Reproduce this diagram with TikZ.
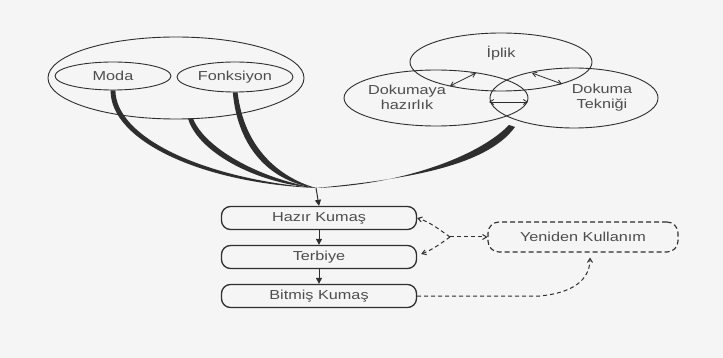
\documentclass[tikz,border=0pt]{standalone}
\usepackage{fontspec}
\setmainfont{Liberation Sans}[FakeStretch=1.25]
\usetikzlibrary{shapes.geometric, arrows.meta, calc}
\definecolor{ink}{HTML}{2E2E2E}
\definecolor{paper}{HTML}{F5F5F5}
\tikzset{
    >={Straight Barb[length=4pt,width=5pt]},
    % Shapes
    oval/.style={ellipse, draw=ink, line width=0.9pt, inner sep=0pt},
    lbl/.style={font=\fontsize{13}{15}\selectfont, text=ink!85, align=center},
    stage/.style={rectangle, draw=ink, line width=1.3pt, rounded corners=9pt,
                  minimum width=195pt, minimum height=23pt, lbl},
    reuse/.style={stage, dash pattern=on 5pt off 3pt, line width=1.1pt, minimum width=190pt,
                  minimum height=30pt, rounded corners=11pt},
    % Flow
    flow/.style={-{Triangle[length=6pt,width=6pt]}, ink, line width=1pt},
    loopback/.style={->, ink, dash pattern=on 4pt off 3pt, line width=1pt},
    twoway/.style={<->, ink, line width=0.8pt},
    brush/.style={fill=ink}
}

\begin{document}
\begin{tikzpicture}[x=1pt, y=-1pt]
\fill[paper] (0,0) rectangle (723,358);
\useasboundingbox (0,0) rectangle (723,358);

% left group
\node[oval, minimum width=256pt, minimum height=82pt] (trend) at (176,78) {};
\node[oval, lbl, minimum width=116pt, minimum height=28pt] (moda) at (113,76) {Moda};
\node[oval, lbl, minimum width=116pt, minimum height=30pt] (fonk) at (235,77) {Fonksiyon};

% right group
\node[oval, minimum width=182pt, minimum height=58pt] (iplik) at (501,62) {};
\node[oval, minimum width=184pt, minimum height=56pt] (hazirlik) at (436,98) {};
\node[oval, minimum width=168pt, minimum height=60pt] (teknik) at (574,98) {};
\node[lbl] (iplikT) at (501,53) {İplik};
\node[lbl] (hazirlikT) at (407,97) {Dokumaya\\hazırlık};
\node[lbl] (teknikT) at (602,98) {Dokuma\\Tekniği};

\coordinate (a1) at (450,86);  \coordinate (a2) at (476,73);
\coordinate (b1) at (532,73);  \coordinate (b2) at (562,84);
\coordinate (c1) at (489,102); \coordinate (c2) at (528,102);
\draw[twoway] (a1) -- (a2);
\draw[twoway] (b1) -- (b2);
\draw[twoway] (c1) -- (c2);

% process chain
\node[stage] (hazir) at (319,218) {Hazır Kumaş};
\node[stage] (terbiye) at (319,257) {Terbiye};
\node[stage] (bitmis) at (319,296) {Bitmiş Kumaş};
\node[reuse] (yeniden) at (583,237) {Yeniden Kullanım};

\coordinate (join) at (316,188);
\coordinate (vbot) at (512,126);
\coordinate (split) at (450,237);

% brush strokes
\fill[brush] ($(moda.south)+(-2.4,0)$) .. controls (110,140) and (200,183) .. (join)
    .. controls (201,178) and (116,137) .. ($(moda.south)+(2.4,0)$) -- cycle;
\fill[brush] ($(trend.south)+(12,-1)$) .. controls (197,150) and (252,183) .. (join)
    .. controls (257,178) and (204,147) .. ($(trend.south)+(17,-1)$) -- cycle;
\fill[brush] ($(fonk.south)+(-2.2,0)$) .. controls (238,150) and (272,182) .. (join)
    .. controls (278,177) and (244,147) .. ($(fonk.south)+(2.6,0)$) -- cycle;
\fill[brush] ($(vbot)+(-3,-1)$) .. controls (478,157) and (400,185) .. (join)
    .. controls (403,179.5) and (486,167) .. ($(vbot)+(3,1)$) -- cycle;

\draw[flow] (join) -- (hazir.north);
\draw[flow] (hazir) -- (terbiye);
\draw[flow] (terbiye) -- (bitmis);

% reuse loop
\draw[loopback] (split) .. controls (440,230) and (430,222) .. (hazir.east);
\draw[loopback] (split) .. controls (440,244) and (432,250) .. ($(terbiye.east)+(4,-3)$);
\draw[loopback] (split) -- (yeniden.west);
\draw[loopback] (bitmis.east) -- (540,296) .. controls (580,292) and (590,275)
    .. ($(yeniden.south)+(7,5)$);

\end{tikzpicture}
\end{document}
